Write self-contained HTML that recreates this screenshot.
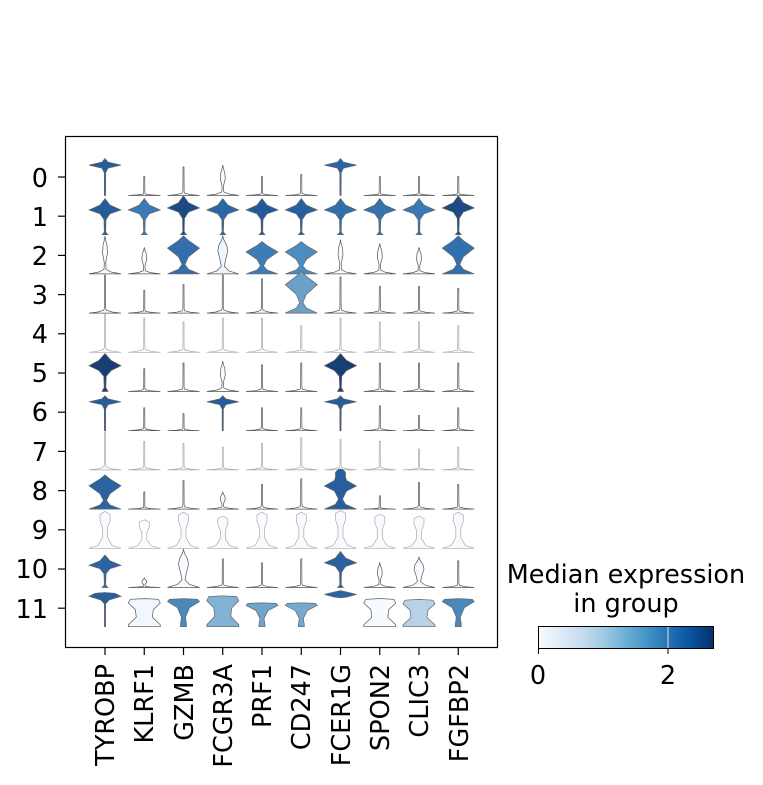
<!DOCTYPE html>
<html><head><meta charset="utf-8"><style>body{margin:0;background:#fff}svg{display:block}text{font-family:"DejaVu Sans","Liberation Sans",sans-serif;fill:#000}</style></head>
<body>
<svg id="s" width="763" height="785" xmlns="http://www.w3.org/2000/svg">
<defs><linearGradient id="bl" x1="0" x2="1" y1="0" y2="0">
<stop offset="0" stop-color="#f7fbff"/><stop offset="0.125" stop-color="#deebf7"/><stop offset="0.25" stop-color="#c6dbef"/><stop offset="0.375" stop-color="#9ecae1"/><stop offset="0.5" stop-color="#6baed6"/><stop offset="0.625" stop-color="#4292c6"/><stop offset="0.75" stop-color="#2171b5"/><stop offset="0.875" stop-color="#08519c"/><stop offset="1" stop-color="#08306b"/></linearGradient></defs>
<g id="v"></g>
<rect x="65.5" y="136.5" width="432" height="511" fill="none" stroke="#000" stroke-width="1.2"/>
<g id="ticks" stroke="#000" stroke-width="1.2"></g>
<g font-size="25.5" text-anchor="end">
<text x="48" y="187">0</text><text x="48" y="226">1</text><text x="48" y="265">2</text><text x="48" y="304">3</text><text x="48" y="343">4</text><text x="48" y="382">5</text><text x="48" y="421">6</text><text x="48" y="461">7</text><text x="48" y="500">8</text><text x="48" y="539">9</text><text x="48" y="578">10</text><text x="48" y="618">11</text>
</g>
<g font-size="25.5" text-anchor="end">
<text transform="translate(114,664) rotate(-90)">TYROBP</text>
<text transform="translate(153,664) rotate(-90)">KLRF1</text>
<text transform="translate(193,664) rotate(-90)">GZMB</text>
<text transform="translate(232,664) rotate(-90)">FCGR3A</text>
<text transform="translate(271,664) rotate(-90)">PRF1</text>
<text transform="translate(310,664) rotate(-90)">CD247</text>
<text transform="translate(350,664) rotate(-90)">FCER1G</text>
<text transform="translate(389,664) rotate(-90)">SPON2</text>
<text transform="translate(428,664) rotate(-90)">CLIC3</text>
<text transform="translate(468,664) rotate(-90)">FGFBP2</text>
</g>
<text x="626" y="583" font-size="25.5" text-anchor="middle">Median expression</text>
<text x="626" y="612" font-size="25.5" text-anchor="middle">in group</text>
<rect x="538.5" y="626.5" width="175" height="22" fill="url(#bl)" stroke="#000" stroke-width="1"/>
<line x1="668" y1="627" x2="668" y2="648" stroke="#ccc" stroke-width="1.2"/>
<line x1="538.5" y1="649" x2="538.5" y2="654" stroke="#000"/><line x1="668" y1="649" x2="668" y2="654" stroke="#000"/>
<text x="538" y="684" font-size="25.5" text-anchor="middle">0</text>
<text x="668" y="684" font-size="25.5" text-anchor="middle">2</text>
</svg>
<script>
var P={
S:[[0,16],[0.03,7],[0.08,1.2],[0.15,0.6],[1,0.5],[1,0]],
A:[[0,0.6],[0.6,0.7],[0.72,3],[0.8,16],[0.88,3],[0.97,0]],
B:[[0,3],[0.04,1.5],[0.08,0.7],[0.4,1],[0.55,5],[0.65,16],[0.78,5],[0.95,0]],
B5:[[0,3],[0.05,2],[0.1,0.8],[0.4,1.2],[0.55,6],[0.68,16],[0.82,6],[1,0]],
C:[[0,16],[0.12,5],[0.25,1.5],[0.45,5],[0.68,16],[0.88,5],[1,0]],
C8:[[0,16],[0.12,5],[0.25,2],[0.45,6],[0.58,16],[0.72,6],[0.8,5],[0.92,5],[1,2],[1,0]],
G:[[0,16],[0.05,6],[0.12,1],[0.3,0.7],[0.55,2.5],[0.75,2],[0.9,0.6],[1,0]],
G2:[[0,16],[0.08,6],[0.2,1.5],[0.4,3],[0.6,5],[0.75,4],[0.9,1],[1,0]],
D:[[0,16],[0.08,7],[0.3,2.5],[0.55,2.5],[0.75,5],[0.92,5],[1,0]],
E:[[0,16],[0.05,16],[0.25,8],[0.45,9],[0.62,16],[0.72,14],[0.74,0]],
F:[[0,3],[0.06,3],[0.25,2],[0.5,6],[0.66,16],[0.72,14],[0.74,0]],
T11:[[0,0.6],[0.6,0.6],[0.7,4],[0.8,16],[0.88,10],[0.9,0]],
F11:[[0.76,0],[0.78,6],[0.85,16],[0.92,5],[0.95,0]]};
var W='#f7fbff';
var R=[
[['A',1,'#245d9a'],['S',.5,W],['S',.75,W],['G',.8,W],['S',.5,W],['S',.55,W],['A',1,'#2a64a3'],['S',.5,W],['S',.5,W],['S',.5,W]],
[['B',1,'#245d9a'],['B',1,'#3a7ab6'],['B',1.08,'#1b4a84'],['B',1,'#2c66a6'],['B',1,'#22599a'],['B',1,'#27609f'],['B',1,'#3070ad'],['B',1,'#3373b0'],['B',1,'#3979b5'],['B',1.08,'#1c4a85']],
[['G',1,W],['G',.7,W],['C',1,'#336fae'],['G2',1,'#eef5fc'],['C',.85,'#3d7db7'],['C',.85,'#4d8cbf'],['G',.9,W],['G',.8,W],['G',.7,W],['C',1,'#3170ae']],
[['S',1,W],['S',.6,W],['S',.75,W],['S',1,W],['S',.9,W],['C',1.1,'#6ba1c9'],['S',.95,W],['S',.7,W],['S',.7,W],['S',.65,W]],
[['S',1,W],['S',.9,W],['S',.8,W],['S',.9,W],['S',.9,W],['S',.7,W],['S',.9,W],['S',.8,W],['S',.8,W],['S',.7,W]],
[['B5',1,'#173f73'],['S',.6,W],['S',.75,W],['G',.8,W],['S',.7,W],['S',.75,W],['B5',1,'#173f73'],['S',.75,W],['S',.75,W],['S',.75,W]],
[['A',.95,'#245d9a'],['S',.6,W],['S',.45,W],['A',.95,'#245d9a'],['S',.6,W],['S',.6,W],['A',.95,'#245d9a'],['S',.65,W],['S',.4,W],['S',.6,W]],
[['S',1,W],['S',.75,W],['S',.7,W],['S',.6,W],['S',.7,W],['S',.85,W],['S',.8,W],['S',.75,W],['S',.55,W],['S',.6,W]],
[['C',.9,'#2c64a3'],['S',.45,W],['S',.75,W],['G',.45,W],['S',.65,W],['S',.8,W],['C8',1.05,'#275f9e'],['S',.35,W],['S',.7,W],['S',.65,W]],
[['D',.97,W],['D',.75,'#fbfdff'],['D',.95,W],['D',.85,W],['D',.95,W],['D',.95,W],['D',1,W],['D',.9,W],['D',.85,W],['D',.95,W]],
[['B',.9,'#2c64a3'],['G',.25,W],['G2',1,W],['S',.75,W],['S',.65,W],['S',.75,W],['B',1,'#2a62a1'],['G',.65,W],['G2',.8,W],['S',.7,W]],
[['T11',1,'#27609f'],['E',1,'#f1f7fd'],['F',1,'#4a89bb'],['E',1.1,'#82b2d4'],['F',.85,'#6fa5cc'],['F',.85,'#76a9cf'],['F11',1,'#2b64a3'],['E',1,W],['E',.97,'#b8d1e6'],['F',1,'#4a88bb']]];
var g=document.getElementById('v'),t=document.getElementById('ticks'),h='',tk='';
for(var r=0;r<12;r++){var ty=177+r*39.2;tk+='<line x1="58" x2="65" y1="'+ty+'" y2="'+ty+'"/>';
 var base=ty+18.5;
 for(var c=0;c<10;c++){var cx=105+c*39.25;var s=R[r][c],p=P[s[0]],sc=s[1]*38,L=[],Rt=[];
  for(var i=0;i<p.length;i++){var y=base-p[i][0]*sc,w=p[i][1];L.push((cx-w).toFixed(1)+','+y.toFixed(1));Rt.unshift((cx+w).toFixed(1)+','+y.toFixed(1));}
  var light=s[2]==W||s[2]=='#fbfdff'||s[2]=='#f1f7fd'||s[2]=='#eef5fc';
  var st=(r==4||r==7||r==9)?'#aaa':(light?'#555':'#666');
  h+='<polygon points="'+L.concat(Rt).join(' ')+'" fill="'+s[2]+'" stroke="'+st+'" stroke-width="0.7"/>';}
}
for(var c=0;c<10;c++){var x=105+c*39.25;tk+='<line y1="648" y2="655" x1="'+x+'" x2="'+x+'"/>';}
g.innerHTML=h;t.innerHTML=tk;
</script>
</body></html>
